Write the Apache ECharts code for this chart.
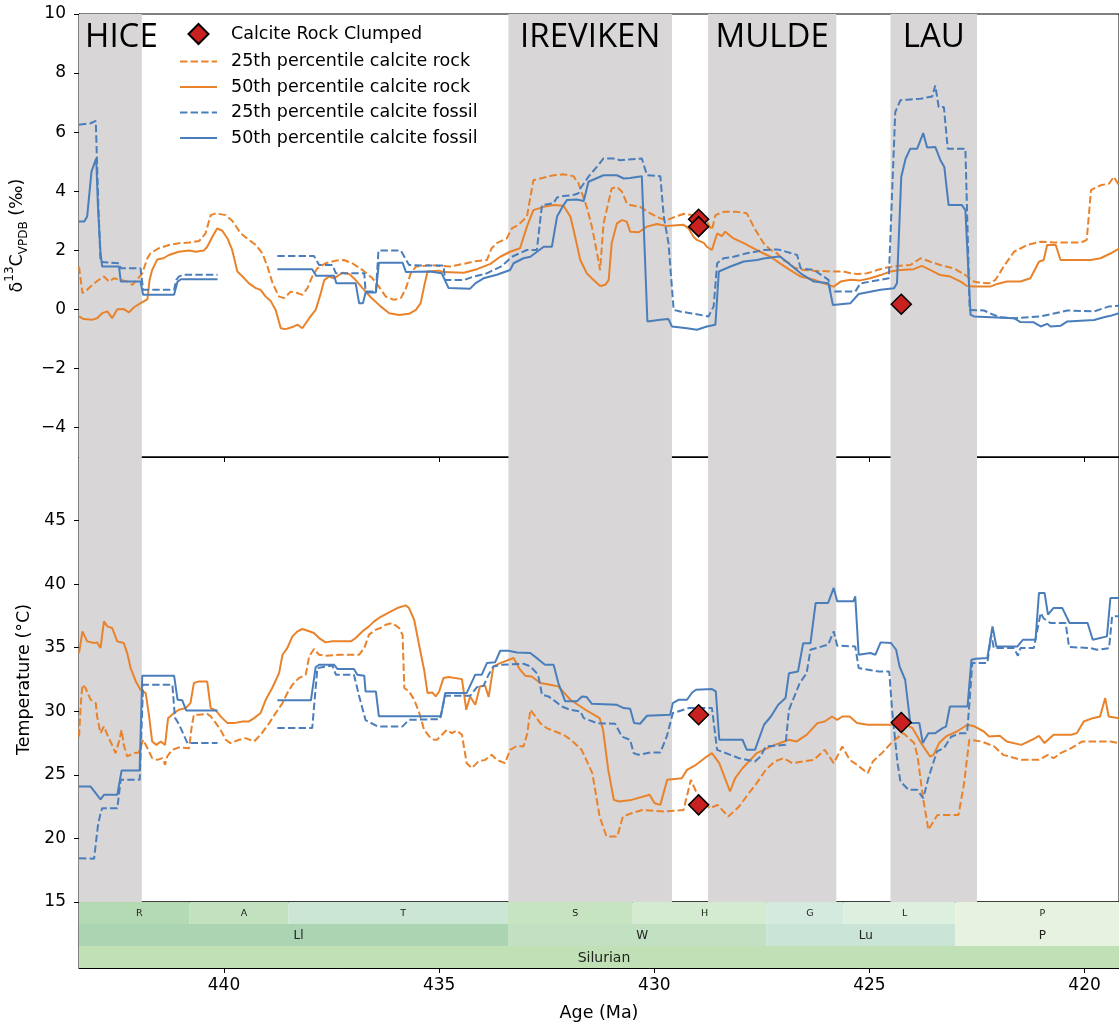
<!DOCTYPE html>
<html>
<head>
<meta charset="utf-8">
<script src="https://cdn.jsdelivr.net/npm/echarts@6/dist/echarts.min.js"></script>
<style>
  html, body { margin: 0; padding: 0; background: #fff; }
  #chart { width: 1119px; height: 1026px; }
</style>
</head>
<body>
<div id="chart"></div>
<script>
// ---- Axis ranges and tick labels ----
const AGE_MIN = 419.2;
const AGE_MAX = 443.37;
const ageTicks = [440, 435, 430, 425, 420];
const d13cTicks = [-4, -2, 0, 2, 4, 6, 8, 10];
const tempTicks = [15, 20, 25, 30, 35, 40, 45];

// ---- Carbon-isotope stratigraphic intervals (Ma) ----
const intervalNames = ['HICE', 'IREVIKEN', 'MULDE', 'LAU'];
const intervalOlder = [443.37, 433.39, 428.75, 424.51];
const intervalYounger = [441.91, 429.59, 425.77, 422.50];

// ---- Geologic time scale (Ma) ----
const stageNames = ['R', 'A', 'T', 'S', 'H', 'G', 'L', 'P'];
const stageBounds = [443.8, 440.8, 438.5, 433.4, 430.5, 427.4, 425.6, 423.0, 419.2];
const epochNames = ['Ll', 'W', 'Lu', 'P'];
const epochBounds = [443.8, 433.4, 427.4, 423.0, 419.2];
const periodNames = ['Silurian'];
const periodBounds = [443.8, 419.2];

// ---- Clumped isotope measurements [age, value] ----
const clumpedD13C = [[428.97, 3.05], [428.97, 2.8], [424.26, 0.17]];
const clumpedTemp = [[428.97, 29.73], [428.97, 22.64], [424.26, 29.12]];

// ---- d13C percentile curves [age, permil]; null marks a data gap ----
const d13cRock25 = [[443.37,1.45],[443.29,0.55],[443.18,0.66],[443.06,0.83],[442.91,1.0],[442.79,1.11],[442.67,0.94],[442.56,1.05],[442.40,1.0],[442.25,0.94],[442.13,0.83],[442.02,1.0],[441.90,1.22],[441.78,1.73],[441.71,1.90],[441.51,2.07],[441.28,2.18],[441.05,2.24],[440.81,2.26],[440.58,2.31],[440.43,2.57],[440.31,3.19],[440.19,3.25],[439.96,3.19],[439.81,3.0],[439.61,2.57],[439.42,2.35],[439.26,2.18],[439.11,1.90],[438.99,1.45],[438.87,0.88],[438.72,0.43],[438.60,0.38],[438.45,0.60],[438.29,0.55],[438.18,0.49],[438.06,0.72],[437.95,1.11],[437.83,1.39],[437.64,1.56],[437.40,1.65],[437.21,1.67],[437.02,1.56],[436.78,1.33],[436.55,1.05],[436.40,0.77],[436.24,0.43],[436.05,0.32],[435.89,0.38],[435.77,0.72],[435.66,1.22],[435.54,1.45],[435.31,1.48],[435.21,1.50],[434.98,1.47],[434.74,1.45],[434.43,1.54],[434.12,1.64],[433.89,1.67],[433.78,2.07],[433.66,2.24],[433.43,2.40],[433.31,2.74],[433.16,2.86],[432.96,3.14],[432.81,4.37],[432.65,4.43],[432.34,4.54],[432.11,4.57],[431.88,4.51],[431.76,4.26],[431.57,3.47],[431.45,2.8],[431.33,1.9],[431.26,1.33],[431.18,2.9],[430.99,4.09],[430.87,4.15],[430.75,3.98],[430.64,3.59],[430.56,3.53],[430.33,3.47],[430.09,3.25],[429.86,3.08],[429.71,3.02],[429.47,3.16],[429.32,3.23],[429.09,3.19],[428.93,3.14],[428.78,2.97],[428.66,2.69],[428.58,3.19],[428.39,3.3],[428.08,3.3],[427.85,3.25],[427.65,2.69],[427.46,2.24],[427.30,2.01],[427.15,1.9],[426.99,1.65],[426.84,1.55],[426.76,1.42],[426.53,1.33],[426.29,1.31],[425.91,1.28],[425.60,1.28],[425.44,1.22],[425.29,1.20],[425.05,1.22],[424.82,1.33],[424.59,1.42],[424.36,1.47],[424.05,1.50],[423.81,1.73],[423.58,1.61],[423.35,1.50],[423.04,1.39],[422.77,1.16],[422.57,0.94],[422.42,0.90],[422.22,0.88],[422.07,1.0],[421.88,1.45],[421.64,1.95],[421.33,2.18],[421.02,2.29],[420.71,2.26],[420.40,2.26],[420.09,2.26],[419.95,2.35],[419.85,4.04],[419.63,4.2],[419.43,4.26],[419.32,4.49],[419.2,4.2]];

const d13cRock50 = [[443.37,-0.24],[443.26,-0.33],[443.06,-0.35],[442.95,-0.3],[442.83,-0.13],[442.71,-0.07],[442.60,-0.3],[442.48,0.0],[442.33,0.01],[442.21,-0.1],[442.09,0.07],[441.94,0.21],[441.78,0.34],[441.73,0.99],[441.67,1.33],[441.55,1.69],[441.41,1.73],[441.28,1.84],[441.05,1.95],[440.81,1.99],[440.66,1.95],[440.47,1.99],[440.39,2.12],[440.27,2.46],[440.16,2.74],[440.04,2.66],[439.92,2.40],[439.81,2.01],[439.69,1.28],[439.57,1.11],[439.42,0.88],[439.26,0.72],[439.15,0.66],[439.03,0.43],[438.91,0.27],[438.80,-0.02],[438.68,-0.64],[438.57,-0.67],[438.41,-0.6],[438.29,-0.52],[438.18,-0.64],[438.02,-0.3],[437.87,-0.02],[437.75,0.55],[437.67,0.99],[437.56,1.11],[437.44,1.05],[437.25,1.24],[437.09,1.2],[436.94,0.99],[436.78,0.72],[436.59,0.41],[436.36,0.1],[436.16,-0.13],[435.93,-0.19],[435.70,-0.15],[435.54,-0.02],[435.43,0.21],[435.35,0.77],[435.27,1.28],[435.0,1.31],[434.90,1.26],[434.43,1.24],[434.12,1.36],[433.81,1.54],[433.58,1.78],[433.35,1.95],[433.12,2.07],[432.96,2.8],[432.81,3.36],[432.57,3.47],[432.34,3.53],[432.11,3.51],[431.95,3.14],[431.84,2.46],[431.72,1.67],[431.57,1.22],[431.41,0.99],[431.26,0.79],[431.14,0.83],[431.06,0.99],[430.99,2.24],[430.87,2.91],[430.75,3.02],[430.64,2.97],[430.56,2.63],[430.36,2.61],[430.17,2.8],[429.94,2.89],[429.71,2.82],[429.32,2.86],[429.20,2.74],[429.09,2.46],[429.01,2.35],[428.85,2.25],[428.78,2.12],[428.66,2.01],[428.54,2.57],[428.43,2.48],[428.35,2.63],[428.16,2.40],[427.92,2.24],[427.77,2.12],[427.54,1.95],[427.30,1.78],[427.07,1.55],[426.84,1.33],[426.60,1.11],[426.29,1.0],[426.06,0.88],[425.83,0.77],[425.67,0.94],[425.44,1.0],[425.21,0.98],[424.98,1.05],[424.74,1.16],[424.51,1.28],[424.28,1.33],[423.97,1.36],[423.78,1.47],[423.58,1.33],[423.35,1.16],[423.12,1.11],[422.88,0.94],[422.73,0.79],[422.57,0.77],[422.19,0.77],[422.03,0.86],[421.80,0.94],[421.49,0.94],[421.26,1.05],[421.06,1.61],[420.95,1.67],[420.87,2.18],[420.67,2.18],[420.56,1.67],[420.25,1.67],[419.86,1.67],[419.63,1.73],[419.40,1.89],[419.2,2.06]];

const d13cFossil25 = [[443.37,6.25],[443.10,6.30],[442.98,6.38],[442.92,3.5],[442.87,1.6],[442.83,1.56],[442.44,1.56],[442.40,1.39],[441.94,1.39],[441.88,0.66],[441.16,0.66],[441.11,1.0],[441.05,1.11],[440.95,1.17],[440.15,1.17],[440.0,null],[438.76,1.81],[437.91,1.81],[437.79,1.5],[437.48,1.5],[437.40,1.22],[436.74,1.22],[436.71,0.6],[436.47,0.6],[436.41,1.99],[435.89,1.99],[435.70,1.5],[435.21,1.48],[434.90,1.48],[434.86,0.99],[434.43,0.99],[434.20,1.11],[433.89,1.22],[433.54,1.47],[433.31,1.78],[432.96,2.01],[432.73,2.01],[432.61,3.53],[432.34,3.59],[432.26,3.79],[432.11,3.84],[431.88,3.87],[431.76,3.93],[431.72,4.09],[431.53,4.49],[431.33,4.83],[431.18,5.11],[430.95,5.11],[430.79,5.05],[430.29,5.11],[430.17,4.54],[429.86,4.51],[429.78,3.14],[429.67,2.24],[429.55,-0.02],[429.40,-0.07],[429.16,-0.13],[428.74,-0.24],[428.62,0.1],[428.54,1.56],[428.39,1.73],[428.16,1.78],[427.85,1.90],[427.65,1.95],[427.46,2.01],[427.15,2.03],[427.07,2.01],[426.68,1.84],[426.60,1.39],[426.29,1.33],[425.95,1.0],[425.91,0.6],[425.33,0.6],[425.21,0.88],[424.74,1.0],[424.55,1.05],[424.40,6.68],[424.28,7.08],[424.12,7.1],[423.81,7.13],[423.54,7.21],[423.47,7.58],[423.39,6.85],[423.27,6.85],[423.18,5.44],[422.77,5.44],[422.67,-0.02],[422.34,-0.04],[421.98,-0.27],[421.64,-0.3],[421.02,-0.24],[420.87,-0.19],[420.40,-0.04],[419.78,-0.07],[419.43,0.1],[419.2,0.12]];

const d13cFossil50 = [[443.37,2.97],[443.25,2.97],[443.18,3.14],[443.08,4.66],[442.97,5.11],[442.93,3.5],[442.87,1.9],[442.83,1.45],[442.44,1.45],[442.40,0.94],[441.94,0.94],[441.88,0.49],[441.16,0.49],[441.08,0.94],[441.0,1.02],[440.15,1.02],[440.0,null],[438.76,1.36],[437.95,1.36],[437.86,1.14],[437.44,1.14],[437.39,0.88],[436.94,0.88],[436.86,0.21],[436.77,0.21],[436.71,0.57],[436.47,0.57],[436.40,1.58],[435.85,1.58],[435.77,1.26],[435.21,1.28],[434.94,1.22],[434.78,0.72],[434.28,0.70],[434.16,0.88],[433.97,1.05],[433.66,1.17],[433.35,1.33],[433.27,1.56],[433.04,1.73],[432.88,1.78],[432.57,2.12],[432.38,2.12],[432.26,3.14],[432.11,3.53],[432.03,3.70],[431.80,3.72],[431.64,3.67],[431.53,4.32],[431.18,4.54],[430.87,4.54],[430.71,4.43],[430.56,4.45],[430.29,4.51],[430.25,4.49],[430.16,-0.41],[429.86,-0.35],[429.67,-0.33],[429.59,-0.58],[429.24,-0.64],[429.01,-0.69],[428.78,-0.58],[428.58,-0.52],[428.50,1.28],[428.23,1.45],[427.92,1.62],[427.61,1.67],[427.46,1.72],[427.15,1.78],[427.07,1.78],[426.88,1.56],[426.60,1.22],[426.29,0.94],[425.95,0.88],[425.85,0.15],[425.44,0.21],[425.25,0.52],[424.74,0.66],[424.43,0.71],[424.36,0.88],[424.26,4.49],[424.16,5.1],[424.05,5.44],[423.89,5.44],[423.75,5.97],[423.66,5.48],[423.47,5.5],[423.35,5.05],[423.26,4.82],[423.16,3.53],[422.85,3.53],[422.77,3.36],[422.65,-0.19],[422.57,-0.24],[421.64,-0.3],[421.49,-0.43],[421.18,-0.44],[421.02,-0.58],[420.87,-0.49],[420.79,-0.58],[420.56,-0.56],[420.40,-0.41],[419.78,-0.36],[419.55,-0.27],[419.40,-0.22],[419.2,-0.13]];

// ---- Temperature percentile curves [age, degC]; null marks a data gap ----
const tempRock25 = [[443.37,28.02],[443.33,30.5],[443.29,32.09],[443.22,31.83],[443.10,30.91],[442.98,30.64],[442.95,29.6],[442.87,28.28],[442.79,28.81],[442.71,28.15],[442.64,27.63],[442.52,26.71],[442.44,27.63],[442.38,28.54],[442.33,27.36],[442.25,26.45],[442.09,26.71],[441.98,26.76],[441.88,27.76],[441.78,27.1],[441.67,26.32],[441.55,26.18],[441.43,26.32],[441.37,25.79],[441.32,26.45],[441.20,26.97],[441.05,27.15],[440.81,27.1],[440.75,28.81],[440.70,29.73],[440.58,29.73],[440.39,29.8],[440.31,29.6],[440.19,29.07],[440.08,28.54],[439.96,27.76],[439.85,27.5],[439.65,27.76],[439.50,27.89],[439.30,27.63],[439.15,28.15],[438.95,29.07],[438.80,29.86],[438.64,30.64],[438.53,31.43],[438.41,32.09],[438.26,32.61],[438.10,32.88],[438.02,34.32],[437.91,34.9],[437.79,34.45],[437.64,34.37],[437.33,34.45],[436.86,34.45],[436.74,34.97],[436.63,36.03],[436.47,36.42],[436.36,36.55],[436.24,36.81],[436.09,36.94],[435.93,36.55],[435.85,36.0],[435.81,31.83],[435.70,31.56],[435.58,30.91],[435.46,29.86],[435.35,28.54],[435.23,28.02],[435.12,27.76],[435.05,27.76],[434.82,28.54],[434.71,28.28],[434.59,28.49],[434.47,28.15],[434.36,25.92],[434.24,25.53],[434.09,26.05],[433.93,26.18],[433.78,26.58],[433.66,26.18],[433.47,25.92],[433.35,26.97],[433.19,27.28],[433.04,27.23],[432.95,28.28],[432.88,30.12],[432.65,29.07],[432.50,28.68],[432.30,28.41],[432.11,28.15],[431.94,27.76],[431.69,26.97],[431.44,25.13],[431.27,21.72],[431.11,20.15],[430.86,20.15],[430.73,21.72],[430.53,21.98],[430.28,22.24],[429.78,22.11],[429.32,22.24],[429.15,24.61],[429.03,23.69],[428.86,22.77],[428.70,22.38],[428.53,22.64],[428.28,21.72],[428.03,22.51],[427.83,23.43],[427.62,24.35],[427.41,25.39],[427.20,26.05],[427.0,26.31],[426.79,25.92],[426.54,26.05],[426.29,26.18],[426.04,26.97],[425.83,25.92],[425.63,27.23],[425.46,26.18],[425.29,25.79],[425.04,25.13],[424.92,26.05],[424.71,26.71],[424.46,27.62],[424.21,28.28],[423.96,27.5],[423.88,26.44],[423.76,23.3],[423.63,20.68],[423.42,21.85],[422.93,21.85],[422.80,24.35],[422.68,27.76],[422.39,27.62],[422.10,27.23],[421.89,26.57],[421.47,26.18],[421.06,26.18],[420.85,26.57],[420.72,26.31],[420.56,26.71],[420.31,27.1],[420.06,27.62],[419.40,27.62],[419.2,27.5]];

const tempRock50 = [[443.37,34.58],[443.29,36.29],[443.18,35.5],[443.02,35.37],[442.95,35.42],[442.87,34.97],[442.79,37.07],[442.71,36.68],[442.60,36.55],[442.48,35.5],[442.33,35.37],[442.25,34.58],[442.17,33.4],[442.05,32.35],[441.94,31.7],[441.82,31.43],[441.74,29.6],[441.67,27.63],[441.57,27.36],[441.47,27.63],[441.37,27.36],[441.30,29.46],[441.16,29.86],[441.05,30.12],[440.89,30.25],[440.78,30.64],[440.70,32.22],[440.58,32.35],[440.39,32.35],[440.31,30.25],[440.19,30.07],[440.08,29.6],[439.92,29.07],[439.77,29.07],[439.57,29.2],[439.42,29.2],[439.30,29.46],[439.15,29.86],[439.03,30.91],[438.88,31.83],[438.72,33.0],[438.64,34.45],[438.53,34.97],[438.41,35.89],[438.29,36.29],[438.18,36.47],[438.02,36.29],[437.91,36.16],[437.79,35.76],[437.64,35.42],[437.48,35.5],[437.25,35.5],[437.05,35.5],[436.94,35.76],[436.78,36.29],[436.63,36.68],[436.51,37.07],[436.40,37.34],[436.12,37.86],[435.97,38.12],[435.78,38.33],[435.70,38.12],[435.58,37.2],[435.46,35.11],[435.35,33.27],[435.27,31.43],[435.16,31.48],[435.08,31.17],[435.0,31.56],[434.90,32.61],[434.78,32.69],[434.47,32.53],[434.37,30.12],[434.28,31.17],[434.16,30.51],[434.05,31.96],[433.93,32.0],[433.85,31.12],[433.74,33.53],[433.58,33.79],[433.27,34.19],[433.12,33.27],[433.0,32.8],[432.85,32.74],[432.65,32.22],[432.42,32.09],[432.23,31.96],[431.95,30.91],[431.60,30.12],[431.27,29.46],[431.19,28.54],[431.07,25.39],[430.94,23.03],[430.82,22.9],[430.53,23.03],[430.11,23.43],[429.99,22.77],[429.86,22.64],[429.70,24.61],[429.36,24.74],[429.24,25.39],[429.03,25.79],[428.78,26.44],[428.66,26.71],[428.49,25.92],[428.24,23.69],[428.12,24.74],[427.95,25.52],[427.62,26.71],[427.20,27.36],[426.87,27.76],[426.70,27.62],[426.46,28.15],[426.21,29.07],[426.04,29.2],[425.87,29.59],[425.75,29.33],[425.63,29.59],[425.46,29.59],[425.29,29.07],[425.04,28.94],[424.46,28.94],[424.21,29.07],[424.0,28.68],[423.80,27.5],[423.59,26.44],[423.51,26.57],[423.38,27.5],[423.22,28.02],[422.97,28.41],[422.72,28.94],[422.55,28.8],[422.34,28.41],[422.22,28.02],[421.97,28.07],[421.81,27.62],[421.47,27.36],[421.22,27.76],[421.06,28.07],[420.93,27.5],[420.72,28.15],[420.31,28.15],[420.18,28.28],[420.02,29.2],[419.81,29.46],[419.64,29.59],[419.52,31.04],[419.44,29.59],[419.2,29.46]];

const tempFossil25 = [[443.37,18.44],[443.02,18.4],[442.93,21.0],[442.87,21.98],[442.83,22.38],[442.48,22.38],[442.40,24.61],[441.96,24.61],[441.88,32.09],[441.20,32.09],[441.14,29.5],[441.05,29.0],[440.85,27.5],[440.15,27.5],[440.0,null],[438.76,28.68],[437.95,28.68],[437.83,33.4],[437.48,33.6],[437.40,32.88],[436.98,32.88],[436.86,31.2],[436.71,29.3],[436.43,28.81],[435.85,28.81],[435.70,29.33],[434.98,29.38],[434.86,31.22],[434.28,31.22],[434.12,31.9],[433.97,32.0],[433.85,32.88],[433.74,33.53],[433.54,33.66],[433.04,33.74],[432.88,33.53],[432.70,32.88],[432.61,31.3],[432.46,31.17],[432.30,30.78],[432.15,30.38],[431.96,30.12],[431.72,29.99],[431.64,29.46],[431.33,29.07],[430.91,29.02],[430.75,28.0],[430.56,27.76],[430.48,26.71],[430.37,26.58],[430.09,26.76],[429.86,26.76],[429.71,28.02],[429.57,29.86],[429.20,30.25],[428.66,30.25],[428.54,26.97],[428.03,26.31],[427.66,26.05],[427.53,26.44],[427.41,27.23],[426.95,27.36],[426.87,30.12],[426.62,32.22],[426.46,33.0],[426.37,34.84],[425.96,35.24],[425.83,36.29],[425.75,35.16],[425.33,35.1],[425.25,33.4],[424.79,33.13],[424.54,33.13],[424.47,30.0],[424.35,26.0],[424.28,24.48],[424.09,23.82],[423.89,23.82],[423.75,23.16],[423.62,24.87],[423.43,26.84],[423.27,27.1],[423.10,28.0],[422.88,28.28],[422.73,28.28],[422.67,30.91],[422.61,33.79],[422.26,33.79],[422.17,36.0],[422.11,34.97],[421.64,34.97],[421.55,34.37],[421.49,34.97],[421.18,34.97],[421.02,37.73],[420.95,37.3],[420.79,36.94],[420.44,36.94],[420.36,35.06],[419.86,34.97],[419.71,34.84],[419.43,34.97],[419.36,37.47],[419.2,37.47]];

const tempFossil50 = [[443.37,24.08],[443.10,24.08],[442.87,23.08],[442.79,23.43],[442.48,23.43],[442.38,25.34],[441.96,25.34],[441.90,32.8],[441.16,32.8],[441.08,30.91],[440.97,30.86],[440.88,30.07],[440.15,30.07],[440.0,null],[438.76,30.86],[437.98,30.86],[437.87,33.48],[437.79,33.66],[437.44,33.66],[437.36,33.32],[436.98,33.32],[436.90,32.88],[436.74,32.8],[436.71,31.56],[436.47,31.56],[436.40,29.6],[434.96,29.6],[434.86,31.43],[434.36,31.43],[434.16,32.88],[434.01,32.88],[433.89,33.79],[433.70,33.85],[433.58,34.76],[433.39,34.76],[433.19,34.63],[432.88,34.58],[432.70,34.1],[432.54,33.66],[432.34,33.66],[432.23,32.22],[432.07,30.78],[431.80,30.78],[431.68,31.17],[431.57,31.12],[431.45,30.59],[430.87,30.51],[430.71,30.25],[430.56,30.2],[430.47,29.07],[430.33,29.02],[430.17,29.65],[429.63,29.73],[429.57,30.64],[429.43,30.91],[429.24,30.91],[429.12,31.48],[429.03,31.69],[428.66,31.75],[428.57,31.56],[428.49,27.76],[427.95,27.76],[427.85,26.97],[427.66,26.97],[427.45,28.94],[427.29,29.59],[427.12,30.51],[426.95,31.04],[426.87,33.0],[426.66,33.13],[426.54,35.36],[426.37,35.36],[426.25,38.52],[425.96,38.52],[425.83,39.7],[425.75,38.65],[425.37,38.65],[425.33,39.04],[425.25,34.45],[424.98,34.58],[424.86,34.45],[424.74,35.42],[424.50,35.37],[424.38,34.84],[424.30,33.53],[424.17,32.48],[424.05,29.07],[423.84,29.07],[423.76,27.5],[423.63,28.28],[423.47,28.28],[423.30,28.68],[423.22,28.8],[423.13,30.38],[422.72,30.38],[422.63,34.06],[422.53,34.13],[422.26,34.19],[422.14,36.68],[422.05,35.1],[421.56,35.1],[421.43,35.63],[421.14,35.63],[421.06,39.31],[420.93,39.31],[420.85,37.6],[420.72,38.13],[420.52,38.13],[420.35,36.94],[419.93,36.94],[419.81,35.63],[419.48,35.89],[419.40,38.91],[419.2,38.91]];

// ---- Styling ----
const FONT = 'DejaVu Sans';
const ORANGE = '#e9832b';
const BLUE = '#4a7ebb';
const BAND_GREY = '#d8d6d7';
const DASH = [7.4, 3.2];
const NAMES = {
  clumped: 'Calcite Rock Clumped',
  rock25: '25th percentile calcite rock',
  rock50: '50th percentile calcite rock',
  fossil25: '25th percentile calcite fossil',
  fossil50: '50th percentile calcite fossil'
};
const tierColors = [
  { Silurian: '#c0e0b6' },
  { Ll: '#abd4b3', W: '#c2e1c3', Lu: '#cae5d5', P: '#e7f3df' },
  { R: '#b4dab4', A: '#c1e1bf', T: '#cbe6d5', S: '#c7e4c1', H: '#d4ebd1', G: '#d4eadf', L: '#ddefdf', P: '#e7f3df' }
];
const tierFont = [14, 12, 9.5];

// Build the three time-scale tiers: 0 = period, 1 = epoch, 2 = stage
const tierNames = [periodNames, epochNames, stageNames];
const tierBounds = [periodBounds, epochBounds, stageBounds];
const scaleData = [];
tierNames.forEach((names, row) => {
  names.forEach((n, i) => {
    scaleData.push([tierBounds[row][i], tierBounds[row][i + 1], row, i]);
  });
});

function renderScaleCell(params, api) {
  const row = api.value(2);
  const idx = api.value(3);
  const label = tierNames[row][idx];
  const older = Math.min(api.value(0), AGE_MAX);
  const younger = Math.max(api.value(1), AGE_MIN);
  const p0 = api.coord([older, row + 1]);
  const p1 = api.coord([younger, row]);
  const x = p0[0], y = p0[1], w = p1[0] - p0[0], h = p1[1] - p0[1];
  return {
    type: 'group',
    children: [
      { type: 'rect', shape: { x: x, y: y, width: w, height: h },
        style: { fill: tierColors[row][label], stroke: null } },
      { type: 'text', z2: 10,
        style: { text: label, x: x + w / 2 + 5, y: y + h / 2 + 1, align: 'center', verticalAlign: 'middle',
                 fontSize: tierFont[row], fontFamily: FONT, fill: '#222' } }
    ]
  };
}

function bandAreas() {
  return intervalNames.map((n, i) => {
    const a = { name: n, xAxis: intervalOlder[i] };
    if (i === 0) a.label = { offset: [11, 0] };
    return [a, { xAxis: intervalYounger[i] }];
  });
}

function curve(name, data, color, dashed, panel, extra) {
  const s = {
    type: 'line', name: name, data: data,
    xAxisIndex: panel, yAxisIndex: panel,
    symbol: 'none', showSymbol: false, connectNulls: false, clip: true,
    lineStyle: { color: color, width: 2, type: dashed ? DASH : 'solid' },
    itemStyle: { color: color },
    z: 3, silent: true
  };
  return Object.assign(s, extra || {});
}

function markBands(panel) {
  return {
    silent: true,
    itemStyle: { color: BAND_GREY, opacity: 1 },
    label: panel === 0
      ? { show: true, position: 'insideTop', distance: 7, color: '#000', fontFamily: 'Open Sans', fontSize: 33 }
      : { show: false },
    data: bandAreas()
  };
}

const minusFmt = v => String(v).replace('-', '\u2212');
const tickStyle = { color: '#000', width: 1 };
const labelStyle = { color: '#000', fontFamily: FONT, fontSize: 17 };
const gridBase = { left: 79, right: 0, show: true, borderColor: '#000', borderWidth: 1,
                   containLabel: false, outerBoundsMode: 'none' };
const lineLegendItem = name => ({ name: name, itemStyle: { opacity: 0 } });

const chart = echarts.init(document.getElementById('chart'), null, { renderer: 'canvas' });

chart.setOption({
  animation: false,
  backgroundColor: '#fff',
  grid: [
    Object.assign({ top: 14, height: 443 }, gridBase),
    Object.assign({ top: 457, height: 445 }, gridBase),
    Object.assign({ top: 902, height: 66 }, gridBase)
  ],
  legend: {
    data: [
      { name: NAMES.clumped, icon: 'path://M10,0L20,10L10,20L0,10Z' },
      lineLegendItem(NAMES.rock25),
      lineLegendItem(NAMES.rock50),
      lineLegendItem(NAMES.fossil25),
      lineLegendItem(NAMES.fossil50)
    ],
    orient: 'vertical', left: 179, top: 23, padding: 0,
    itemWidth: 37, itemHeight: 20, itemGap: 7.5, symbolKeepAspect: true,
    textStyle: { color: '#000', fontFamily: FONT, fontSize: 17.5, padding: [0, 0, 0, 9] },
    selectedMode: false
  },
  xAxis: [
    { gridIndex: 0, type: 'value', min: AGE_MIN, max: AGE_MAX, inverse: true,
      axisLine: { show: true, onZero: false, lineStyle: tickStyle },
      axisTick: { show: true, inside: false, length: 5, lineStyle: tickStyle, customValues: ageTicks },
      axisLabel: { show: false }, splitLine: { show: false } },
    { gridIndex: 1, type: 'value', min: AGE_MIN, max: AGE_MAX, inverse: true,
      axisLine: { show: true, onZero: false, lineStyle: tickStyle },
      axisTick: { show: false }, axisLabel: { show: false }, splitLine: { show: false } },
    { gridIndex: 2, type: 'value', min: AGE_MIN, max: AGE_MAX, inverse: true,
      name: 'Age (Ma)', nameLocation: 'middle', nameGap: 36,
      nameTextStyle: { color: '#000', fontFamily: FONT, fontSize: 17.5 },
      axisLine: { show: true, onZero: false, lineStyle: tickStyle },
      axisTick: { show: true, inside: false, length: 5, lineStyle: tickStyle, customValues: ageTicks },
      axisLabel: Object.assign({ customValues: ageTicks, margin: 9 }, labelStyle),
      splitLine: { show: false } }
  ],
  yAxis: [
    { gridIndex: 0, type: 'value', min: -5, max: 10,
      name: '{n|\u03b4}{sup|13}{n|C}{sub|VPDB}{n| (\u2030)}',
      nameLocation: 'middle', nameRotate: 90, nameGap: 32,
      nameTextStyle: {
        rich: {
          n: { fontFamily: FONT, fontSize: 17.5, color: '#000', lineHeight: 26, verticalAlign: 'middle' },
          sup: { fontFamily: FONT, fontSize: 12, color: '#000', lineHeight: 14, verticalAlign: 'top' },
          sub: { fontFamily: FONT, fontSize: 12, color: '#000', lineHeight: 14, verticalAlign: 'bottom' }
        }
      },
      axisLine: { show: true, onZero: false, lineStyle: tickStyle },
      axisTick: { show: true, inside: false, length: 5, lineStyle: tickStyle, customValues: d13cTicks },
      axisLabel: Object.assign({ customValues: d13cTicks, margin: 13, formatter: minusFmt }, labelStyle),
      splitLine: { show: false } },
    { gridIndex: 1, type: 'value', min: 15, max: 50,
      name: 'Temperature (\u00b0C)', nameLocation: 'middle', nameRotate: 90, nameGap: 37,
      nameTextStyle: { color: '#000', fontFamily: FONT, fontSize: 17.5 },
      axisLine: { show: true, onZero: false, lineStyle: tickStyle },
      axisTick: { show: true, inside: false, length: 5, lineStyle: tickStyle, customValues: tempTicks },
      axisLabel: Object.assign({ customValues: tempTicks, margin: 13 }, labelStyle),
      splitLine: { show: false } },
    { gridIndex: 2, type: 'value', min: 0, max: 3,
      axisLine: { show: false }, axisTick: { show: false }, axisLabel: { show: false }, splitLine: { show: false } }
  ],
  series: [
    // upper panel: d13C
    curve(NAMES.rock25, d13cRock25, ORANGE, true, 0, { markArea: markBands(0) }),
    curve(NAMES.rock50, d13cRock50, ORANGE, false, 0),
    curve(NAMES.fossil25, d13cFossil25, BLUE, true, 0),
    curve(NAMES.fossil50, d13cFossil50, BLUE, false, 0),
    { type: 'scatter', name: NAMES.clumped, data: clumpedD13C, xAxisIndex: 0, yAxisIndex: 0,
      symbol: 'diamond', symbolSize: 20, z: 5, silent: true,
      itemStyle: { color: '#c8211f', borderColor: '#000', borderWidth: 1.5, opacity: 1 } },
    // lower panel: temperature
    curve(NAMES.rock25, tempRock25, ORANGE, true, 1, { markArea: markBands(1) }),
    curve(NAMES.rock50, tempRock50, ORANGE, false, 1),
    curve(NAMES.fossil25, tempFossil25, BLUE, true, 1),
    curve(NAMES.fossil50, tempFossil50, BLUE, false, 1),
    { type: 'scatter', name: NAMES.clumped, data: clumpedTemp, xAxisIndex: 1, yAxisIndex: 1,
      symbol: 'diamond', symbolSize: 20, z: 5, silent: true,
      itemStyle: { color: '#c8211f', borderColor: '#000', borderWidth: 1.5, opacity: 1 } },
    // geologic time scale
    { type: 'custom', xAxisIndex: 2, yAxisIndex: 2, data: scaleData, renderItem: renderScaleCell,
      encode: { x: [0, 1], y: 2 }, silent: true, clip: true, z: 1 }
  ]
});
</script>
</body>
</html>
